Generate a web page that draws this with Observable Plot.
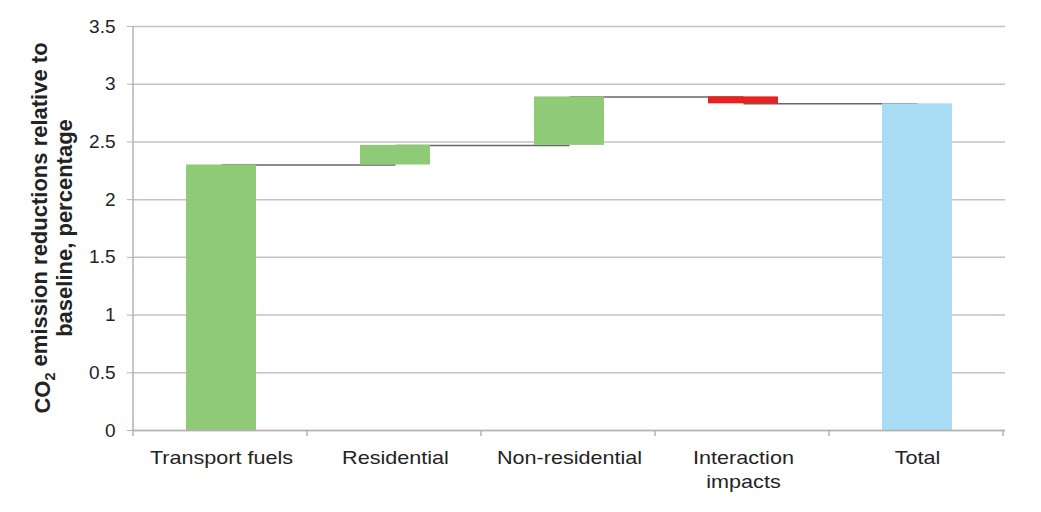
<!DOCTYPE html>
<html>
<head>
<meta charset="utf-8">
<script src="https://cdn.jsdelivr.net/npm/d3@7"></script>
<script src="https://cdn.jsdelivr.net/npm/@observablehq/plot@0.6"></script>
<style>
  html, body { margin: 0; padding: 0; background: #ffffff; }
  #chart { width: 1041px; height: 512px; }
  svg { font-family: "Liberation Sans", Arial, sans-serif; }
</style>
</head>
<body>
<div id="chart"></div>
<script>
// Waterfall of CO2 emission reductions relative to baseline (percentage)
const categories = ["Transport fuels", "Residential", "Non-residential", "Interaction impacts", "Total"];
const tickLabels = ["Transport fuels", "Residential", "Non-residential", "Interaction\nimpacts", "Total"];
// contribution of each step; the total is the running sum
const changes = [2.30, 0.17, 0.42, -0.06];
const yTicks = [0, 0.5, 1, 1.5, 2, 2.5, 3, 3.5];

const colors = { up: "#8fcb77", down: "#e8231f", total: "#a8dbf4" };
const axisColor = "#b9b0b0";
const textColor = "#232323";

// build the floating segments from the running sum
const steps = [];
let level = 0;
changes.forEach((c, i) => {
  const start = level;
  level = +(level + c).toFixed(4);
  steps.push({ cat: categories[i], y1: start, y2: level, kind: c >= 0 ? "up" : "down" });
});
steps.push({ cat: categories[4], y1: 0, y2: level, kind: "total" });

// connector lines between consecutive bars at the running level
const connectors = steps.slice(0, -1).map((s, i) => ({ from: s.cat, to: steps[i + 1].cat, y: s.y2 }));

const labelOf = new Map(categories.map((c, i) => [c, tickLabels[i]]));

const chart = Plot.plot({
  width: 1041,
  height: 512,
  marginLeft: 133,
  marginRight: 36,
  marginTop: 26,
  marginBottom: 82,
  style: { fontFamily: "Liberation Sans, Arial, sans-serif", color: textColor, background: "#fff" },
  x: { domain: categories, paddingInner: 0.6, paddingOuter: 0.3, axis: null },
  y: { domain: [0, 3.5], axis: null },
  marks: [
    Plot.gridY(yTicks, { stroke: "#c9bfbf", strokeOpacity: 1, strokeWidth: 1.5 }),
    Plot.link(connectors, { x1: "from", x2: "to", y1: "y", y2: "y", stroke: "#666", strokeWidth: 1.5 }),
    Plot.barY(steps, { x: "cat", y1: "y1", y2: "y2", fill: d => colors[d.kind] }),
    Plot.axisY(yTicks, { tickSize: 6, tickPadding: 12, fontSize: 19, stroke: axisColor, fill: textColor, label: null, tickFormat: d => String(d) }),
    Plot.ruleY([0], { stroke: axisColor, strokeWidth: 1.5 }),
    Plot.axisX({ tickSize: 0, tickPadding: 16, fontSize: 18, fill: textColor, label: null, tickFormat: d => labelOf.get(d), lineHeight: 1.35 })
  ]
});

const svg = d3.select(chart);
const xs = chart.scale("x");
const ys = chart.scale("y");
const y0 = ys.apply(0);
const yTop = ys.apply(3.5);
const left = xs.range[0];

// widen the category labels a little
svg.selectAll('g[aria-label="x-axis tick label"] text')
  .attr("transform", function () { return (this.getAttribute("transform") || "") + " scale(1.2,1)"; });

// vertical axis line
svg.append("line")
  .attr("x1", left).attr("x2", left)
  .attr("y1", yTop).attr("y2", y0)
  .attr("stroke", axisColor).attr("stroke-width", 1.5);

// category boundary tick marks under the x axis
const bounds = d3.range(categories.length + 1).map(i => left + i * xs.step);
svg.append("g")
  .selectAll("line")
  .data(bounds)
  .join("line")
  .attr("x1", d => d).attr("x2", d => d)
  .attr("y1", y0).attr("y2", y0 + 6)
  .attr("stroke", axisColor).attr("stroke-width", 1.5);

// rotated two-line y-axis title with subscript
const title = svg.append("text")
  .attr("transform", `translate(55, ${ys.apply(1.75)}) rotate(-90)`)
  .attr("text-anchor", "middle")
  .attr("font-size", 22)
  .attr("font-weight", "bold")
  .attr("fill", textColor);
const l1 = title.append("tspan").attr("x", 0).attr("dy", "-0.25em");
l1.append("tspan").text("CO");
l1.append("tspan").attr("font-size", 14.5).attr("dy", "0.35em").text("2");
l1.append("tspan").attr("dy", "-0.35em").text(" emission reductions relative to");
title.append("tspan").attr("x", 0).attr("dy", "1.12em").text("baseline, percentage");

document.getElementById("chart").appendChild(chart);
</script>
</body>
</html>
